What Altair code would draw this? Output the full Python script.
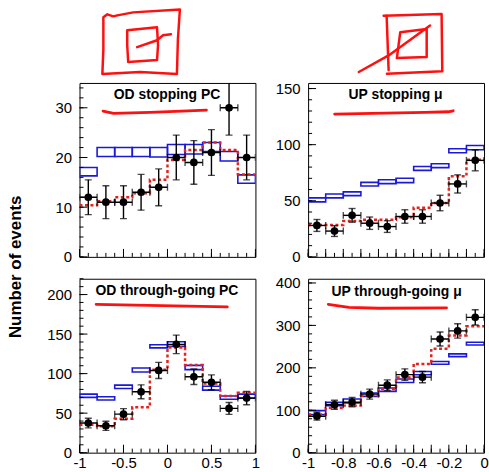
import altair as alt
import pandas as pd
import numpy as np

# ---------------- data ----------------
OD_EDGES = [-1.0, -0.8, -0.6, -0.4, -0.2, 0.0, 0.2, 0.4, 0.6, 0.8, 1.0]
UP_EDGES = [-1.0, -0.9, -0.8, -0.7, -0.6, -0.5, -0.4, -0.3, -0.2, -0.1, 0.0]
OD_XLABELS = [-1, -0.5, 0, 0.5, 1]
UP_XLABELS = [-1, -0.8, -0.6, -0.4, -0.2, 0]

# OD stopping PC
ODS_DATA = [12, 11, 11, 13, 14, 20, 19, 21, 30, 20]
ODS_ERR = [3.5, 3.3, 3.3, 3.6, 3.7, 4.5, 4.4, 4.6, 5.5, 4.5]
ODS_OSC = [10.4, 11.2, 12.0, 12.8, 15.5, 19.5, 21.5, 23.0, 21.5, 16.6]
ODS_NOOSC_LO = [16.3, 20.2, 20.2, 20.2, 20.1, 20.6, 20.7, 21.2, 19.3, 14.8]
ODS_NOOSC_HI = [18.0, 22.0, 22.0, 22.0, 22.0, 22.6, 22.6, 23.0, 21.2, 16.5]
ODS_YLABELS = [0, 10, 20, 30]

# UP stopping mu
UPS_DATA = [28, 23, 37, 30, 27, 36, 36, 48, 65, 86]
UPS_ERR = [5.3, 4.8, 6.1, 5.5, 5.2, 6.0, 6.0, 6.9, 8.1, 9.3]
UPS_OSC = [28.4, 28.4, 32.0, 33.0, 33.0, 35.4, 43.7, 48.1, 71.8, 86.5]
UPS_NOOSC_LO = [49.0, 52.6, 54.6, 63.2, 65.3, 66.2, 77.1, 79.5, 92.8, 95.4]
UPS_NOOSC_HI = [52.6, 56.1, 57.9, 66.4, 68.8, 70.0, 80.6, 83.0, 96.3, 99.2]
UPS_YLABELS = [0, 50, 100, 150]

# OD through-going PC
ODT_DATA = [37.5, 34, 48.7, 77, 104, 137, 96, 89, 56, 69]
ODT_ERR = [6.1, 5.8, 7.0, 8.8, 10.2, 11.7, 9.8, 9.4, 7.5, 8.3]
ODT_OSC = [35.4, 33.3, 42.9, 57.5, 105, 133, 111, 87.5, 71.6, 75.8]
ODT_NOOSC_LO = [70.0, 66.6, 81.2, 102, 132.5, 134.5, 105, 79.1, 67.5, 69]
ODT_NOOSC_HI = [74.1, 70.8, 85.4, 107, 136.6, 140.4, 110.4, 84.1, 71.6, 74]
ODT_YLABELS = [0, 50, 100, 150, 200]

# UP through-going mu
UPT_DATA = [86, 113, 119, 138, 159, 184, 178, 268, 287, 319]
UPT_ERR = [9.3, 10.6, 10.9, 11.8, 12.6, 13.6, 13.3, 16.4, 16.9, 17.9]
UPT_OSC = [89.8, 105.5, 110.9, 134.3, 150, 177.2, 209.3, 245, 276, 298]
UPT_NOOSC_LO = [89.8, 110.9, 117.2, 132.7, 144.4, 165.6, 183.5, 208.6, 226.5, 253.9]
UPT_NOOSC_HI = [99.2, 118.6, 126.6, 140.6, 152.4, 173.5, 191.3, 214.8, 232.8, 260.2]
UPT_YLABELS = [0, 100, 200, 300, 400]

# hand-drawn red annotation strokes (panel pixel coordinates)
TL_UNDERLINE = [[(23.7, 28.3), (34.3, 30.7), (71, 29.7), (127.7, 27.3)]]
TR_UNDERLINE = [[(26.7, 31.3), (64.3, 30.7), (117.7, 29.7), (141, 29), (146, 28.0)]]
BL_UNDERLINE = [[(16.7, 25.7), (148.7, 28.3)]]
BR_UNDERLINE = [[(20.3, 25.7), (41, 28.7), (71, 29.7), (139.3, 29.3)]]
TL_SCRIBBLE = [
    [(24, -61), (24, -66), (28, -69), (34, -67), (38, -68), (54, -71), (101, -74),
     (99, -44), (98, -9), (61, -11), (23, -9), (24, -34), (24, -61)],
    [(48, -53), (78, -56), (79, -38), (78, -23), (49, -21), (48, -38), (48, -53)],
    [(58, -36), (78, -43), (84, -48), (92, -49)],
]
TR_SCRIBBLE = [
    [(76, -67.7), (134.3, -69.3), (135, -11.7), (79.3, -9.3)],
    [(79, -67.7), (81, -13)],
    [(92.7, -51), (119.3, -54.3), (119.3, -26), (89.3, -25), (92.7, -51)],
    [(51, -11), (81, -27.7), (122.7, -57.7)],
]

W, H = 177, 175
BLUE = "#1a1ad6"
RED = "#e3231c"
ANNOT = "#ff1010"
FONT = "Liberation Sans"


def path_df(strokes):
    rows = []
    for s, pts in enumerate(strokes):
        for i, (px, py) in enumerate(pts):
            rows.append({"s": s, "i": i, "px": px, "py": py})
    return pd.DataFrame(rows)


def red_paths(strokes, width):
    return alt.Chart(path_df(strokes)).mark_line(
        color=ANNOT, strokeWidth=width, strokeCap="round", strokeJoin="round"
    ).encode(
        x=alt.X("px:Q", scale=None, axis=None),
        y=alt.Y("py:Q", scale=None, axis=None),
        detail="s:N",
        order="i:Q",
    )


def make_panel(title, tpos, edges, xdom, ydom, data, err, osc, nlo, nhi,
               xlabels, ylabels, xmaj, xmin, ymaj, ymin, show_x, underline, extras):
    lo = edges[:-1]
    hi = edges[1:]
    ctr = [(a + b) / 2 for a, b in zip(lo, hi)]
    df = pd.DataFrame({
        "lo": lo, "hi": hi, "c": ctr, "v": data,
        "e0": [d - e for d, e in zip(data, err)],
        "e1": [d + e for d, e in zip(data, err)],
        "blo": nlo, "bhi": nhi,
    })
    step = pd.DataFrame({"x": edges, "y": osc + [osc[-1]]})

    xs = alt.Scale(domain=xdom, nice=False, zero=False)
    ys = alt.Scale(domain=ydom, nice=False, zero=False)
    if show_x:
        xax = alt.Axis(values=xlabels, labelExpr="'' + datum.value", labelPadding=3)
    else:
        xax = None
    yax = alt.Axis(values=ylabels, labelPadding=8)

    def X(f):
        return alt.X(f, type="quantitative", scale=xs, axis=xax, title=None)

    def Y(f):
        return alt.Y(f, type="quantitative", scale=ys, axis=yax, title=None)

    base = alt.Chart(df)
    layers = []
    layers.append(base.mark_rect(fillOpacity=0, stroke=BLUE, strokeWidth=1.6, clip=True).encode(
        x=X("lo"), x2="hi", y=Y("blo"), y2="bhi"))
    layers.append(alt.Chart(step).mark_line(
        interpolate="step-after", color=RED, strokeDash=[3, 2.5], strokeWidth=2.5, clip=True
    ).encode(x=X("x"), y=Y("y")))
    layers.append(base.mark_rule(color="black", strokeWidth=1.4, clip=True).encode(
        x=X("lo"), x2="hi", y=Y("v")))
    layers.append(base.mark_rule(color="black", strokeWidth=1.4, clip=True).encode(
        x=X("c"), y=Y("e0"), y2="e1"))
    for f in ("lo", "hi"):
        layers.append(base.mark_tick(orient="vertical", size=7, thickness=1.4, color="black", clip=True).encode(
            x=X(f), y=Y("v")))
    for f in ("e0", "e1"):
        layers.append(base.mark_tick(orient="horizontal", size=7, thickness=1.4, color="black", clip=True).encode(
            x=X("c"), y=Y(f)))
    layers.append(base.mark_circle(size=60, color="black", opacity=1, clip=True).encode(
        x=X("c"), y=Y("v")))

    # inward ticks
    for vals, ln in ((ymaj, 8), (ymin, 4)):
        layers.append(alt.Chart(pd.DataFrame({"t": vals})).mark_rule(color="black", strokeWidth=1).encode(
            y=Y("t"), x=alt.value(0), x2=alt.value(ln)))
    for vals, ln in ((xmaj, 8), (xmin, 4)):
        layers.append(alt.Chart(pd.DataFrame({"t": vals})).mark_rule(color="black", strokeWidth=1).encode(
            x=X("t"), y=alt.value(H), y2=alt.value(H - ln)))

    one = pd.DataFrame({"k": [0]})
    layers.append(alt.Chart(one).mark_text(
        text=title, font=FONT, fontSize=14, fontWeight="bold", color="black",
        align="center", baseline="middle"
    ).encode(x=alt.value(tpos[0]), y=alt.value(tpos[1])))
    layers.append(red_paths(underline, 2.8))
    layers.extend(extras)
    return alt.layer(*layers).properties(width=W, height=H)


def rng(a, b, s):
    return [round(v, 4) for v in np.arange(a, b + s / 2, s)]


one = pd.DataFrame({"k": [0]})
anchor = alt.Chart(one).mark_rect(color="white").encode(
    x=alt.value(-79), x2=alt.value(-78), y=alt.value(-81), y2=alt.value(-80))
ytitle = alt.Chart(one).mark_text(
    text="Number of events", font=FONT, fontSize=17, fontWeight="bold", color="black",
    angle=270, align="center", baseline="middle"
).encode(x=alt.value(-64), y=alt.value(185))

p_tl = make_panel("OD stopping PC", (88, 12), OD_EDGES, [-1, 1], [0, 35],
                  ODS_DATA, ODS_ERR, ODS_OSC, ODS_NOOSC_LO, ODS_NOOSC_HI,
                  OD_XLABELS, ODS_YLABELS, rng(-1, 1, 0.5), rng(-1, 1, 0.1),
                  rng(0, 30, 10), rng(0, 34, 2), False, TL_UNDERLINE,
                  [anchor, ytitle, red_paths(TL_SCRIBBLE, 2.5)])
p_tr = make_panel("UP stopping μ", (88, 12), UP_EDGES, [-1, 0], [0, 155],
                  UPS_DATA, UPS_ERR, UPS_OSC, UPS_NOOSC_LO, UPS_NOOSC_HI,
                  UP_XLABELS, UPS_YLABELS, rng(-1, 0, 0.1), rng(-1, 0, 0.05),
                  rng(0, 150, 50), rng(0, 150, 10), False, TR_UNDERLINE,
                  [red_paths(TR_SCRIBBLE, 2.5)])
p_bl = make_panel("OD through-going PC", (88, 12.7), OD_EDGES, [-1, 1], [0, 220],
                  ODT_DATA, ODT_ERR, ODT_OSC, ODT_NOOSC_LO, ODT_NOOSC_HI,
                  OD_XLABELS, ODT_YLABELS, rng(-1, 1, 0.5), rng(-1, 1, 0.1),
                  rng(0, 200, 50), rng(0, 220, 10), True, BL_UNDERLINE, [])
p_br = make_panel("UP through-going μ", (89, 13.7), UP_EDGES, [-1, 0], [0, 410],
                  UPT_DATA, UPT_ERR, UPT_OSC, UPT_NOOSC_LO, UPT_NOOSC_HI,
                  UP_XLABELS, UPT_YLABELS, rng(-1, 0, 0.1), rng(-1, 0, 0.05),
                  rng(0, 400, 100), rng(0, 400, 20), True, BR_UNDERLINE, [])

chart = alt.concat(
    p_tl, p_tr, p_bl, p_br, columns=2, spacing={"row": 22, "column": 53}, bounds="flush"
).properties(padding=0).configure_view(
    stroke="black", strokeWidth=1
).configure_axis(
    domain=False, ticks=False, grid=False, labelFont=FONT, labelFontSize=15,
    labelColor="black", labelFlush=False, labelOverlap=False
)

chart.save("out.html", embed_options={"renderer": "svg", "actions": False})
